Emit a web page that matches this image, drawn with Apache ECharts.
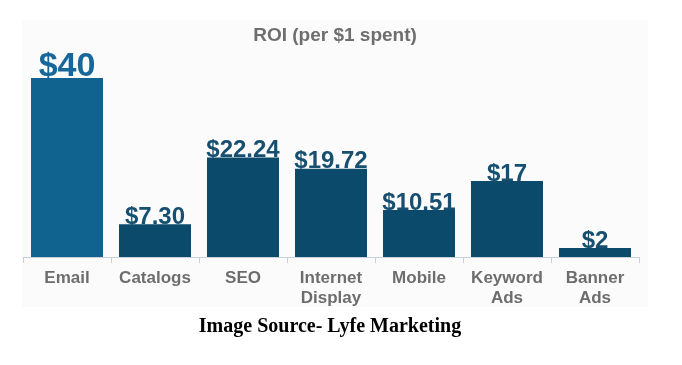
<!DOCTYPE html>
<html><head><meta charset="utf-8">
<script src="https://cdn.jsdelivr.net/npm/echarts@6/dist/echarts.min.js"></script>
<style>html,body{margin:0;padding:0;background:#fff}#c{width:682px;height:365px}</style>
</head><body><div id="c"></div>
<script>
const categories = ['Email', 'Catalogs', 'SEO', 'Internet\nDisplay', 'Mobile', 'Keyword\nAds', 'Banner\nAds'];
const values = [40, 7.30, 22.24, 19.72, 10.51, 17, 2];
const labels = ['$40', '$7.30', '$22.24', '$19.72', '$10.51', '$17', '$2'];
const titleText = 'ROI (per $1 spent)';
const sourceText = 'Image Source- Lyfe Marketing';

const chart = echarts.init(document.getElementById('c'), null, {renderer: 'canvas'});
const data = values.map((v, i) => {
  const first = i === 0;
  return {
    value: v,
    itemStyle: {color: first ? '#10628f' : '#0b4a6b'},
    label: {
      formatter: labels[i],
      color: first ? '#17689a' : '#174f70',
      fontSize: first ? 34 : 24,
      distance: first ? -6 : -5
    }
  };
});
chart.setOption({
  animation: false,
  backgroundColor: '#ffffff',
  title: {
    text: titleText, left: 330, top: 21, textAlign: 'center',
    textStyle: {color: '#6e6e6e', fontSize: 19, fontWeight: 'bold', fontFamily: 'Liberation Sans'}
  },
  graphic: [
    {type: 'rect', z: -10, shape: {x: 22, y: 20, width: 626, height: 287}, style: {fill: '#fbfbfb'}},
    {type: 'text', x: 330, y: 317, style: {text: sourceText, fill: '#000', textAlign: 'center', font: 'bold 20px "Liberation Serif"'}}
  ],
  grid: {left: 23, right: 43, top: 78, bottom: 108, containLabel: false},
  xAxis: {
    type: 'category', data: categories,
    axisLine: {lineStyle: {color: '#c9cfd6', width: 1}},
    axisTick: {show: true, interval: 0, length: 6, lineStyle: {color: '#c9cfd6'}},
    axisLabel: {interval: 0, color: '#6d6d6d', fontSize: 17, fontWeight: 'bold', fontFamily: 'Liberation Sans', lineHeight: 20, margin: 11}
  },
  yAxis: {type: 'value', min: 0, max: 40, show: false, splitLine: {show: false}},
  series: [{
    type: 'bar', data: data, barWidth: 72,
    label: {show: true, position: 'top', fontWeight: 'bold', fontFamily: 'Liberation Sans'}
  }]
});
</script></body></html>
